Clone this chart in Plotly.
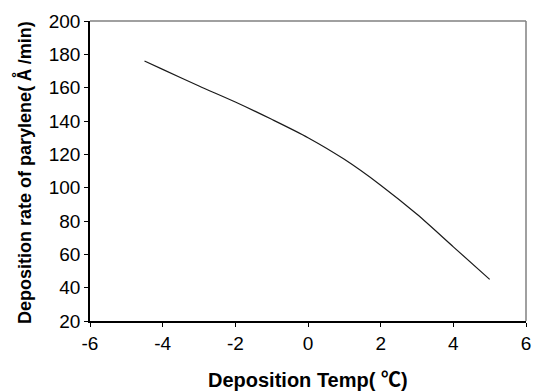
import plotly.graph_objects as go

temp = [-4.5, -4, -3, -2, -1, 0, 1, 2, 3, 4, 5]
rate = [176, 171, 161, 151.4, 141, 130, 117, 101.5, 84, 64.5, 45]
x_ticks = [-6, -4, -2, 0, 2, 4, 6]
x_labels = ["-6", "-4", "-2", "0", "2", "4", "6"]
y_ticks = [20, 40, 60, 80, 100, 120, 140, 160, 180, 200]

fig = go.Figure()
fig.add_trace(go.Scatter(x=temp, y=rate, mode="lines",
                         line=dict(color="#1a1a1a", width=1.2, shape="spline", smoothing=0.8),
                         showlegend=False))

font = "Arial, Liberation Sans, Noto Sans CJK SC, sans-serif"
cjk = "font-family:Noto Sans CJK SC"
fig.update_layout(
    width=539, height=392,
    margin=dict(l=90, r=8, t=21, b=71),
    paper_bgcolor="white", plot_bgcolor="white",
    font=dict(family=font, size=19, color="black"),
    xaxis=dict(range=[-6, 6], tickvals=x_ticks, ticktext=x_labels, ticks="outside", ticklen=4,
               tickcolor="black", showline=True, linecolor="black", linewidth=1.5,
               showgrid=False, zeroline=False),
    yaxis=dict(range=[20, 200], tickvals=y_ticks, ticks="outside", ticklen=4,
               tickcolor="black", showline=True, linecolor="black", linewidth=1.5,
               showgrid=False, zeroline=False),
)
fig.add_annotation(text="<b>Deposition Temp( <span style='%s'>℃</span>)</b>" % cjk,
                   xref="paper", yref="paper", x=0.5, y=-0.19, yanchor="middle",
                   xanchor="center", showarrow=False, font=dict(size=20))
fig.add_annotation(text="<b>Deposition rate of parylene( <span style='%s'>Å</span> /min)</b>" % cjk,
                   xref="paper", yref="paper", x=-0.155, y=0.495, xanchor="center",
                   yanchor="middle", textangle=-90, showarrow=False, font=dict(size=18))
fig.add_shape(type="line", xref="paper", yref="paper", x0=0, x1=1, y0=1, y1=1,
              line=dict(color="#808080", width=1.5))
fig.add_shape(type="line", xref="paper", yref="paper", x0=1, x1=1, y0=0, y1=1,
              line=dict(color="#808080", width=1.5))

fig.write_html("out.html", config={"displayModeBar": False},
               post_script="document.body.style.margin='0';document.body.style.overflow='hidden';")
